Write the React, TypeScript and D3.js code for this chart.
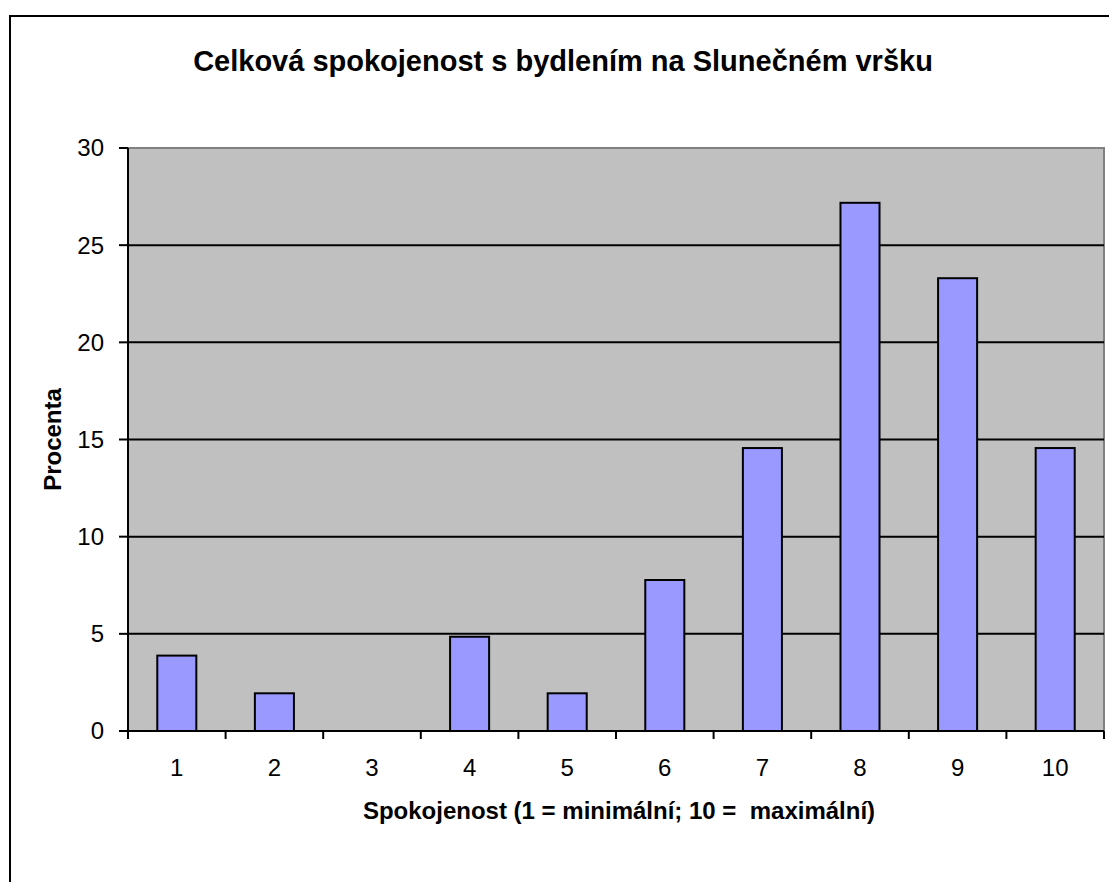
import * as React from 'react';
import * as d3 from 'd3';

// satisfaction score 1..10 -> share of respondents in percent
const categories = ['1', '2', '3', '4', '5', '6', '7', '8', '9', '10'];
const percent = [3.88, 1.94, 0, 4.85, 1.94, 7.77, 14.56, 27.18, 23.3, 14.56];
const yTicks = [0, 5, 10, 15, 20, 25, 30];

const title = 'Celková spokojenost s bydlením na Slunečném vršku';
const xTitle = 'Spokojenost (1 = minimální; 10 =  maximální)';
const yTitle = 'Procenta';

export default function App() {
  const W = 1109,
    H = 882;
  const plot = { left: 128, top: 148, right: 1104, bottom: 731 };

  const x = d3
    .scaleBand()
    .domain(categories)
    .range([plot.left, plot.right])
    .paddingInner(0.6)
    .paddingOuter(0.3);
  const step = (plot.right - plot.left) / categories.length;

  const y = d3.scaleLinear().domain([0, 30]).range([plot.bottom, plot.top]);

  const font = 'Arial, "Liberation Sans", sans-serif';

  return (
    <svg
      width={W}
      height={H}
      style={{ position: 'absolute', left: 0, top: 0, fontFamily: font }}
    >
      <rect x={0} y={0} width={W} height={H} fill="#fff" />
      {/* chart area border, runs off the page on the right and bottom */}
      <rect x={10} y={16} width={1120} height={880} fill="#fff" stroke="#000" strokeWidth={2} />

      <text x={563} y={71} textAnchor="middle" fontSize={29} fontWeight="bold">
        {title}
      </text>

      {/* plot area */}
      <rect
        x={plot.left}
        y={plot.top}
        width={plot.right - plot.left}
        height={plot.bottom - plot.top}
        fill="#c0c0c0"
        stroke="#808080"
        strokeWidth={2}
      />

      {yTicks
        .filter(t => t > 0 && t < 30)
        .map(t => (
          <line key={t} x1={plot.left} x2={plot.right} y1={y(t)} y2={y(t)} stroke="#000" strokeWidth={2} />
        ))}

      {percent.map((v, i) =>
        v > 0 ? (
          <rect
            key={i}
            x={x(categories[i])}
            y={y(v)}
            width={x.bandwidth()}
            height={y(0) - y(v)}
            fill="#9999ff"
            stroke="#000"
            strokeWidth={2}
          />
        ) : null
      )}

      {/* y axis */}
      <line x1={plot.left} x2={plot.left} y1={plot.top} y2={plot.bottom} stroke="#000" strokeWidth={2} />
      {yTicks.map(t => (
        <g key={t}>
          <line x1={plot.left - 9} x2={plot.left} y1={y(t)} y2={y(t)} stroke="#000" strokeWidth={2} />
          <text x={104} y={y(t)} dy="0.35em" textAnchor="end" fontSize={24}>
            {t}
          </text>
        </g>
      ))}

      {/* x axis */}
      <line x1={plot.left} x2={plot.right} y1={plot.bottom} y2={plot.bottom} stroke="#000" strokeWidth={2} />
      {d3.range(categories.length + 1).map(i => (
        <line
          key={i}
          x1={plot.left + i * step}
          x2={plot.left + i * step}
          y1={plot.bottom}
          y2={plot.bottom + 8}
          stroke="#000"
          strokeWidth={2}
        />
      ))}
      {categories.map(c => (
        <text key={c} x={(x(c) || 0) + x.bandwidth() / 2} y={776} textAnchor="middle" fontSize={24}>
          {c}
        </text>
      ))}

      <text
        x={(plot.left + plot.right) / 2 + 3}
        y={819}
        textAnchor="middle"
        fontSize={24}
        fontWeight="bold"
        style={{ whiteSpace: 'pre' }}
      >
        {xTitle}
      </text>
      <text
        transform={`translate(61,${(plot.top + plot.bottom) / 2}) rotate(-90)`}
        textAnchor="middle"
        fontSize={24}
        fontWeight="bold"
      >
        {yTitle}
      </text>
    </svg>
  );
}
